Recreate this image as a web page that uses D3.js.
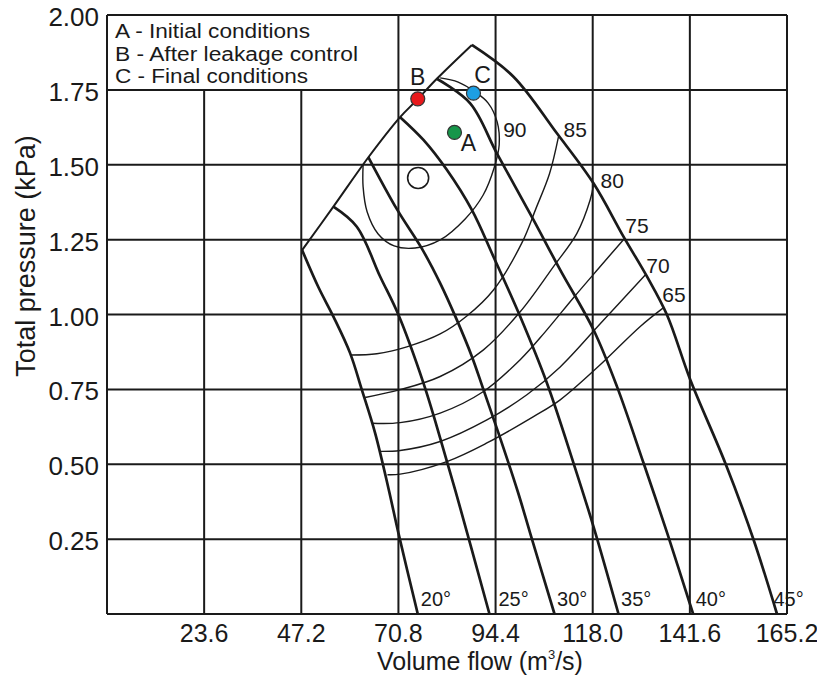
<!DOCTYPE html>
<html>
<head>
<meta charset="utf-8">
<script src="https://cdn.jsdelivr.net/npm/d3@7"></script>
<style>
  body { margin: 0; background: #fff; }
  text { font-family: "Liberation Sans", Arial, sans-serif; fill: #1a1a1a; }
</style>
</head>
<body>
<div id="chart"></div>
<script>
/**
 * DATA (volume flow m3/s, total pressure kPa)
 * */
const flowTicks = [23.6, 47.2, 70.8, 94.4, 118.0, 141.6, 165.2];
const pressureTicks = [0.25, 0.5, 0.75, 1.0, 1.25, 1.5, 1.75, 2.0];

// stall line (left boundary)
const stallLine = [[47.4, 1.215], [55.0, 1.36], [63.51, 1.525], [71.21, 1.659], [75.27, 1.716], [80.13, 1.787], [88.64, 1.9]];

// blade angle curves
const angleLabels = ["20°", "25°", "30°", "35°", "40°", "45°"];
const angle20 = [[47.4, 1.215], [51.4, 1.09], [55.0, 0.993], [59.06, 0.871], [61.9, 0.749], [65.14, 0.604], [68.37, 0.42], [70.8, 0.27], [75.5, 0]];
const angle25 = [[55.0, 1.36], [60.69, 1.293], [66.35, 1.127], [70.8, 0.999], [76.88, 0.771], [80.13, 0.626], [84.6, 0.414], [92.92, 0]];
const angle30 = [[63.51, 1.525], [70.5, 1.35], [76.5, 1.22], [80.93, 1.105], [84.99, 0.982], [88.64, 0.86], [91.46, 0.749], [95.11, 0.604], [99.9, 0.404], [102.8, 0.27], [108.72, 0]];
const angle35 = [[71.21, 1.659], [76.88, 1.583], [82.56, 1.483], [88.64, 1.349], [93.89, 1.193], [100.38, 0.993], [106.87, 0.771], [113.33, 0.504], [118.19, 0.292], [124.27, 0]];
const angle40 = [[80.13, 1.787], [88.23, 1.705], [94.72, 1.538], [103.61, 1.316], [110.1, 1.149], [118.19, 0.949], [123.88, 0.76], [130.35, 0.504], [136.1, 0.27], [142.4, 0]];
const angle45 = [[88.64, 1.9], [98.75, 1.794], [109.3, 1.605], [118.19, 1.438], [125.48, 1.26], [131.17, 1.127], [136.03, 0.999], [141.7, 0.782], [150.2, 0.504], [157.08, 0.248], [162.77, 0]];

// efficiency contours (%)
const effLabels = ["90", "85", "80", "75", "70", "65"];
const eff90 = [[62.22, 1.5], [62.22, 1.426], [63.19, 1.343], [65.87, 1.269], [69.76, 1.229], [74.86, 1.222], [80.94, 1.249], [87.01, 1.319], [91.39, 1.399], [94.06, 1.49], [95.28, 1.567], [94.79, 1.643], [92.6, 1.706], [89.44, 1.743], [85.31, 1.776], [80.94, 1.79]];
const eff85 = [[59.06, 0.865], [65.55, 0.869], [72.84, 0.892], [80.94, 0.935], [87.42, 0.995], [93.89, 1.082], [100.79, 1.239], [104.27, 1.356], [107.5, 1.47], [109.69, 1.594]];
const eff80 = [[62.71, 0.723], [71.21, 0.749], [80.94, 0.793], [91.46, 0.882], [100.38, 1.009], [108.47, 1.16], [114.16, 1.271], [117.39, 1.383], [118.19, 1.433]];
const eff75 = [[64.33, 0.637], [71.21, 0.639], [80.94, 0.671], [91.46, 0.743], [100.38, 0.849], [106.46, 0.942], [113.33, 1.056], [119.82, 1.16], [125.41, 1.249]];
const eff70 = [[66.35, 0.543], [71.21, 0.546], [80.94, 0.576], [92.29, 0.648], [102.01, 0.732], [110.1, 0.825], [119.82, 0.969], [130.76, 1.132]];
const eff65 = [[68.13, 0.465], [71.21, 0.467], [82.56, 0.509], [92.29, 0.571], [103.61, 0.659], [110.1, 0.715], [119.82, 0.832], [129.55, 0.96], [135.14, 1.022]];

// operating points
const pointNames = ["", "B", "C", "A"];
const pointFlow = [75.59, 75.5, 89.03, 84.42];
const pointPressure = [1.456, 1.72, 1.739, 1.608];
const pointColors = ["#ffffff", "#e8191c", "#1d9fe2", "#16964a"];

const legendLines = ["A - Initial conditions", "B - After leakage control", "C - Final conditions"];

/**
 * CONSTANTS
 * */
const width = 817,
  height = 683,
  margin = { top: 15, bottom: 69, left: 107, right: 30 };

const svg = d3.select("#chart")
  .append("svg")
  .attr("width", width)
  .attr("height", height);

const x = d3.scaleLinear().domain([0, 165.2]).range([margin.left, width - margin.right]);
const y = d3.scaleLinear().domain([0, 2]).range([height - margin.bottom, margin.top]);

const line = d3.line()
  .x(d => x(d[0]))
  .y(d => y(d[1]))
  .curve(d3.curveCatmullRom.alpha(0.5));

const ink = "#1a1a1a";

// + GRID (the legend box hides the upper part of the left verticals)
const grid = svg.append("g").attr("stroke", ink).attr("stroke-width", 2);
grid.selectAll(".v")
  .data([0].concat(flowTicks))
  .join("line")
  .attr("x1", d => x(d)).attr("x2", d => x(d))
  .attr("y1", y(0))
  .attr("y2", d => (d > 0 && d < 70.8) ? y(1.75) : y(2));
grid.selectAll(".h")
  .data([0].concat(pressureTicks))
  .join("line")
  .attr("x1", x(0)).attr("x2", x(165.2))
  .attr("y1", d => y(d)).attr("y2", d => y(d));

// + TICK LABELS
svg.append("g")
  .selectAll("text")
  .data(flowTicks)
  .join("text")
  .attr("x", d => x(d))
  .attr("y", y(0) + 28)
  .attr("text-anchor", "middle")
  .attr("font-size", 25)
  .text(d => d.toFixed(1));

svg.append("g")
  .selectAll("text")
  .data(pressureTicks)
  .join("text")
  .attr("x", x(0) - 8)
  .attr("y", d => y(d) + 11)
  .attr("text-anchor", "end")
  .attr("font-size", 26)
  .text(d => d.toFixed(2));

// + AXIS TITLES
const xTitle = svg.append("text")
  .attr("x", 480)
  .attr("y", 670)
  .attr("text-anchor", "middle")
  .attr("font-size", 25);
xTitle.append("tspan").text("Volume flow (m");
xTitle.append("tspan").attr("font-size", 13).attr("dy", -11).text("3");
xTitle.append("tspan").attr("dy", 11).text("/s)");

svg.append("text")
  .attr("transform", "translate(35,256) rotate(-90)")
  .attr("text-anchor", "middle")
  .attr("font-size", 27)
  .text("Total pressure (kPa)");

// + LEGEND
const legendWidths = [195, 243, 193];
svg.append("g")
  .selectAll("text")
  .data(legendLines)
  .join("text")
  .attr("x", x(0) + 8)
  .attr("y", (d, i) => margin.top + 23 + i * 22.5)
  .attr("font-size", 19.5)
  .attr("textLength", (d, i) => legendWidths[i])
  .attr("lengthAdjust", "spacingAndGlyphs")
  .text(d => d);

// + EFFICIENCY CONTOURS
const effCurves = [eff90, eff85, eff80, eff75, eff70, eff65];
svg.append("g")
  .attr("fill", "none")
  .attr("stroke", ink)
  .attr("stroke-width", 1.4)
  .selectAll("path")
  .data(effCurves)
  .join("path")
  .attr("d", line);

// labels sit just right of each contour, 90 beside the oval
const effLabelOffset = [[4, -8], [5, 0], [7, 3], [2, -7], [1, -2], [-1, -6]];
svg.append("g")
  .selectAll("text")
  .data(effLabels)
  .join("text")
  .attr("x", (d, i) => {
    const p = i === 0 ? eff90[10] : effCurves[i][effCurves[i].length - 1];
    return x(p[0]) + effLabelOffset[i][0];
  })
  .attr("y", (d, i) => {
    const p = i === 0 ? eff90[10] : effCurves[i][effCurves[i].length - 1];
    return y(p[1]) + effLabelOffset[i][1];
  })
  .attr("font-size", 21)
  .text(d => d);

// + STALL LINE AND BLADE ANGLE CURVES
svg.append("path")
  .datum(stallLine)
  .attr("fill", "none")
  .attr("stroke", ink)
  .attr("stroke-width", 2)
  .attr("d", line);

const angleCurves = [angle20, angle25, angle30, angle35, angle40, angle45];
svg.append("g")
  .attr("fill", "none")
  .attr("stroke", ink)
  .attr("stroke-width", 2.7)
  .selectAll("path")
  .data(angleCurves)
  .join("path")
  .attr("d", line);

const angleLabelDx = [3, 9, 2.5, 2.5, 2.5, -3.5];
svg.append("g")
  .selectAll("text")
  .data(angleLabels)
  .join("text")
  .attr("x", (d, i) => x(angleCurves[i][angleCurves[i].length - 1][0]) + angleLabelDx[i])
  .attr("y", y(0) - 8)
  .attr("font-size", 20)
  .text(d => d);

// + OPERATING POINTS
const points = pointNames.map((name, i) => ({
  name, flow: pointFlow[i], pressure: pointPressure[i], color: pointColors[i]
}));

svg.append("g")
  .selectAll("circle")
  .data(points)
  .join("circle")
  .attr("cx", d => x(d.flow))
  .attr("cy", d => y(d.pressure))
  .attr("r", d => d.name ? 7 : 10.5)
  .attr("fill", d => d.color)
  .attr("stroke", d => d.name ? "#333" : ink)
  .attr("stroke-width", d => d.name ? 1.2 : 1.6);

const pointLabelOffset = { B: [0, -14], C: [9, -10], A: [14, 19] };
svg.append("g")
  .selectAll("text")
  .data(points.filter(d => d.name))
  .join("text")
  .attr("x", d => x(d.flow) + pointLabelOffset[d.name][0])
  .attr("y", d => y(d.pressure) + pointLabelOffset[d.name][1])
  .attr("text-anchor", "middle")
  .attr("font-size", 23)
  .text(d => d.name);
</script>
</body>
</html>
